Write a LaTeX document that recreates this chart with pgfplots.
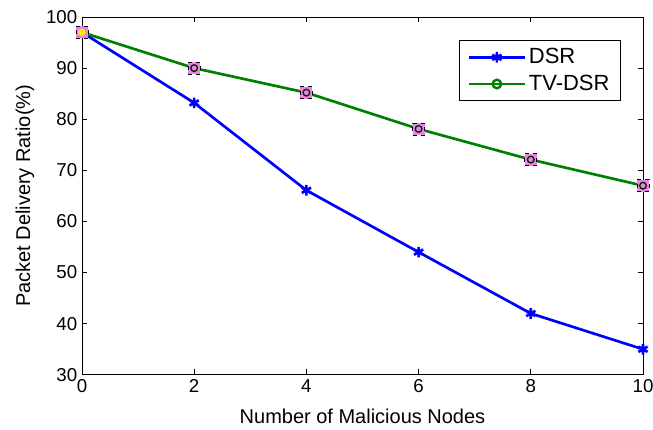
\documentclass[border=0pt]{standalone}
\usepackage{fontspec}
\setmainfont{Liberation Sans}
\usepackage{pgfplots}
\pgfplotsset{compat=1.18}
\definecolor{mgreen}{RGB}{0,128,0}
\definecolor{mpink}{RGB}{238,130,232}
\begin{document}
\begin{tikzpicture}
\begin{axis}[
  scale only axis,
  width=421pt, height=268.5pt,
  xmin=0, xmax=10, ymin=30, ymax=100,
  xtick={0,2,4,6,8,10},
  ytick={30,40,50,60,70,80,90,100},
  tick align=inside,
  major tick length=4pt,
  axis line style={line width=0.6pt},
  tick style={line width=0.6pt, black},
  /pgf/number format/assume math mode=true,
  ticklabel style={font=\fontsize{14}{16}\selectfont},
  label style={font=\fontsize{15}{18}\selectfont},
  xlabel={Number of Malicious Nodes},
  ylabel={Packet Delivery Ratio(\%)},
  xlabel style={yshift=-5pt},
  ylabel style={yshift=2pt},
  legend style={at={(0.96,0.935)}, anchor=north east,
    font=\fontsize{16.5}{19}\selectfont, draw=black, line width=0.6pt,
    inner xsep=6pt, inner ysep=4pt, row sep=3pt, cells={anchor=west}},
  legend image code/.code={\draw[mark repeat=2,mark phase=2,#1] plot coordinates {(0pt,0pt) (21pt,0pt) (42pt,0pt)};},
]
\addplot[blue, line width=2pt, mark=asterisk, mark size=4pt, mark options={line width=2pt}]
coordinates {(0,97) (2,83.2) (4,66.1) (6,54) (8,42) (10,35)};
\addlegendentry{DSR}
\addplot[mgreen, line width=2pt, mark=o, mark size=3.2pt, mark options={line width=1.8pt}]
coordinates {(0,97) (2,90) (4,85.2) (6,78.1) (8,72.1) (10,67)};
\addlegendentry{TV-DSR}
\addplot[only marks, forget plot, mark=square*, mark size=4.5pt,
  mark options={fill=mpink, draw=black, dashed, line width=0.5pt}]
coordinates {(0,97) (2,90) (4,85.2) (6,78.1) (8,72.1) (10,67)};
\addplot[only marks, forget plot, mark=o, mark size=2.5pt,
  mark options={draw=black!70!mgreen, line width=1pt}]
coordinates {(2,90) (4,85.2) (6,78.1) (8,72.1) (10,67)};
\addplot[only marks, forget plot, mark=*, mark size=2.5pt,
  mark options={draw=yellow, fill=yellow}]
coordinates {(0,97)};
\end{axis}
\pgfresetboundingbox
\path ([xshift=-61.5pt,yshift=-41.25pt]current axis.south west) rectangle ([xshift=7.5pt,yshift=12.75pt]current axis.north east);
\end{tikzpicture}
\end{document}
